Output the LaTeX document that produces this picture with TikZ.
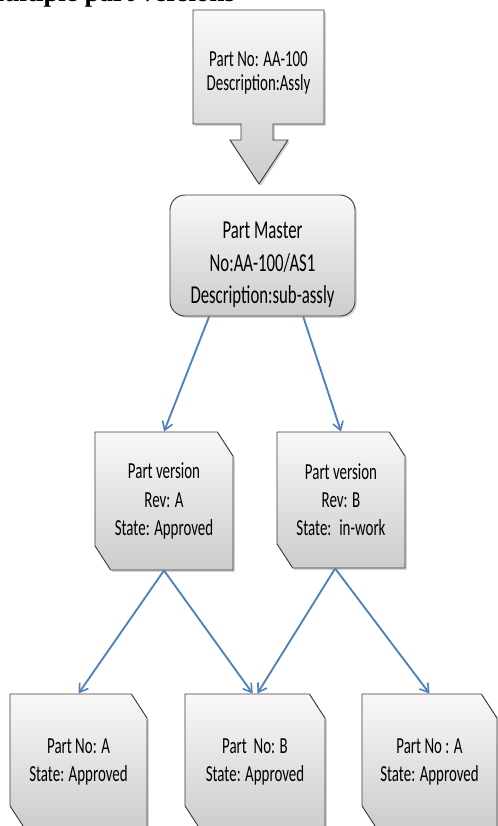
\documentclass[tikz,border=0pt]{standalone}
\usepackage{fontspec}
\setmainfont{Liberation Serif}
\newfontfamily\boxfont[FakeStretch=0.65]{Carlito}
\usetikzlibrary{shapes.misc,arrows.meta,shadows}

\definecolor{linkblue}{RGB}{79,129,189}
\definecolor{boxedge}{RGB}{60,60,60}

\begin{document}
\begin{tikzpicture}[x=0.03cm,y=-0.03cm,
	shadebox/.style={top color=gray!5,bottom color=gray!40,draw=boxedge,line width=0.8pt,
		drop shadow={opacity=0.35,shadow xshift=1.5pt,shadow yshift=-1.5pt}},
	boxtext/.style={align=center,font=\boxfont\fontsize{19.6pt}{24pt}\selectfont},
	masterbox/.style={shadebox,rounded corners=0.45cm,minimum width=5.55cm,minimum height=3.63cm,
		align=center,font=\boxfont\fontsize{22pt}{28pt}\selectfont},
	snipbox/.style={shadebox,boxtext,chamfered rectangle,chamfered rectangle corners={north east,south west},
		chamfered rectangle angle=33,chamfered rectangle xsep=0.4cm,inner sep=0pt},
	link/.style={linkblue,line width=1.6pt,-{Straight Barb[length=7pt,width=9pt,line width=1.4pt]}}]
	\useasboundingbox (0,0) rectangle (498,826);
	% title, cut at the top edge
	\node[anchor=base west,font=\bfseries\fontsize{23pt}{23pt}\selectfont] (title) at (-25,1.5) {Multiple part versions};
	% assembly with its arrow
	\path[shadebox] (193,10) -- (324,10) -- (324,124) -- (273,124) -- (273,140) -- (288,140) -- (259,184)
		-- (230,140) -- (241,140) -- (241,124) -- (193,124) -- cycle;
	\node[align=center,font=\boxfont\fontsize{19.6pt}{21pt}\selectfont] (asm) at (258.5,73) {Part No: AA-100\\Description:Assly};
	% part master
	\node[masterbox] (pm) at (262.5,255.5) {\rule{0pt}{30pt}Part Master\\No:AA-100/AS1\\Description:sub-assly};
	% versions
	\node[snipbox,minimum width=4.14cm,minimum height=4.14cm] (va) at (164,501) {Part version\\Rev: A\\State: Approved};
	\node[snipbox,minimum width=3.84cm,minimum height=4.08cm] (vb) at (341,500) {Part version\\Rev: B\\State:~ in-work};
	% parts
	\node[snipbox,minimum width=4.11cm,minimum height=4.08cm] (pa) at (78.5,762) {Part No: A\\State: Approved};
	\node[snipbox,minimum width=4.2cm,minimum height=4.08cm] (pb) at (255,762) {Part~ No: B\\State: Approved};
	\node[snipbox,minimum width=4.05cm,minimum height=4.08cm] (pc) at (429.5,762) {Part No : A\\State: Approved};
	% links
	\draw[link] ([xshift=-1.6cm]pm.south) -- (va.north);
	\draw[link] ([xshift=1.22cm]pm.south) -- (vb.north);
	\draw[link] (va.south) -- (pa.north);
	\draw[link] (va.south) -- ([xshift=-2pt]pb.north);
	\draw[link] ([xshift=-5pt]vb.south) -- ([xshift=2pt]pb.north);
	\draw[link] ([xshift=-5pt]vb.south) -- (pc.north);
\end{tikzpicture}
\end{document}
